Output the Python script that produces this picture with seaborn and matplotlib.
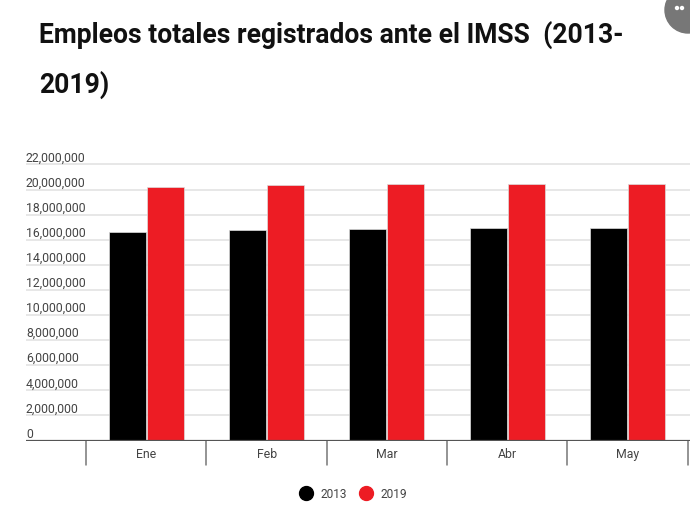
import numpy as np
import pandas as pd
import matplotlib
matplotlib.use('Agg')
import matplotlib.pyplot as plt
import seaborn as sns
from matplotlib.lines import Line2D
from matplotlib.patches import Ellipse
import matplotlib.transforms as mtransforms

sns.set_theme(style="white")
plt.rcParams['font.family'] = ['Roboto', 'DejaVu Sans']

# datos
meses = ['Ene', 'Feb', 'Mar', 'Abr', 'May']
empleos_2013 = [16590000, 16750000, 16830000, 16900000, 16920000]
empleos_2019 = [20210000, 20340000, 20400000, 20400000, 20400000]
anios = ['2013', '2019']
y_ticks = [0, 2000000, 4000000, 6000000, 8000000, 10000000, 12000000,
           14000000, 16000000, 18000000, 20000000, 22000000]

colores = {'2013': '#000000', '2019': '#ed1c24'}
gris_txt = '#444444'

df = pd.DataFrame({
    'mes': meses * 2,
    'anio': ['2013'] * len(meses) + ['2019'] * len(meses),
    'empleos': empleos_2013 + empleos_2019,
})

W, H = 690, 516
fig = plt.figure(figsize=(W / 100, H / 100), dpi=100)

# ejes: 0 en y=440.5 px, ~25.1 px por cada 2 millones
y0_px = 440.5
px_por_unidad = 25.1 / 2e6
y_top = 22.4e6
top_px = y0_px - y_top * px_por_unidad
ax = fig.add_axes([26 / W, (H - y0_px) / H, (W - 26) / W, (y0_px - top_px) / H])

sns.barplot(data=df, x='mes', y='empleos', hue='anio', palette=colores,
            order=meses, hue_order=anios, width=0.635, gap=0.03,
            saturation=1, edgecolor='#dddddd', linewidth=0.5, ax=ax,
            legend=False)

ax.set_xlim(-1.0, 4.52)
ax.set_ylim(0, y_top)
for s in ax.spines.values():
    s.set_visible(False)
ax.set_xlabel('')
ax.set_ylabel('')
ax.set_yticks([])
ax.set_xticks([])

# lineas de cuadricula y etiquetas del eje y
trans_y = mtransforms.blended_transform_factory(ax.transAxes, ax.transData)
off = mtransforms.offset_copy(trans_y, fig=fig, x=0, y=3, units='dots')
for v in y_ticks:
    if v > 0:
        ax.axhline(v, color='#e3e3e3', lw=1.2, zorder=0)
    ax.text(0, v, f'{v:,}', transform=off, ha='left', va='baseline',
            fontsize=8.8, color=gris_txt)

# linea base y separadores de categorias
ax.axhline(0, color='#555555', lw=1.6, zorder=5)
sep = 24 / px_por_unidad
for k in range(-1, len(meses)):
    ax.plot([k + 0.5, k + 0.5], [0, -sep], color='#777777', lw=1.1,
            clip_on=False)
for i, m in enumerate(meses):
    ax.text(i, -17.5 / px_por_unidad, m, ha='center', va='baseline',
            fontsize=8.8, color=gris_txt, clip_on=False)

# titulo
fig.text(39 / W, 1 - 43 / H, 'Empleos totales registrados ante el IMSS  (2013-',
         fontsize=19.1, fontweight='bold', color='#111111', ha='left',
         va='baseline')
fig.text(39 / W, 1 - 93 / H, '2019)', fontsize=19.1, fontweight='bold',
         color='#111111', ha='left', va='baseline')

# leyenda
handles = [Line2D([0], [0], marker='o', color='none', markerfacecolor=colores[a],
                  markeredgecolor=colores[a], markersize=10, label=a)
           for a in anios]
fig.legend(handles=handles, loc='center', bbox_to_anchor=(353 / W, 1 - 494 / H),
           ncol=2, frameon=False, fontsize=8.6, handletextpad=0.6,
           columnspacing=1.0, handlelength=1.2, labelcolor=gris_txt)

# boton gris de la esquina
fig.patches.append(Ellipse((688 / W, 1 - 10 / H), 46 / W, 46 / H,
                           transform=fig.transFigure, color='#777777'))
for xd in [677, 682]:
    fig.patches.append(Ellipse((xd / W, 1 - 8 / H), 3 / W, 3 / H,
                               transform=fig.transFigure, color='white'))

fig.savefig('out.png', dpi=100)
